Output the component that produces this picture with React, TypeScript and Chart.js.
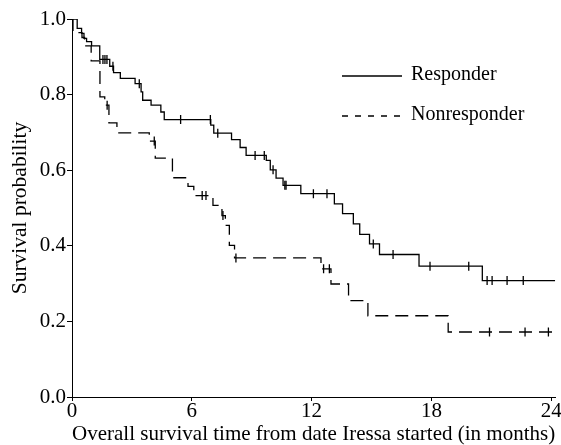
import React, { useEffect, useRef } from "react";
import { Chart, registerables } from "chart.js";

Chart.register(...registerables);

// ---- Data ----
const responderTimes = [0, 0.26, 0.48, 0.6, 0.73, 0.98, 1.39, 1.89, 2.08, 2.42, 3.16, 3.46, 3.54, 3.96, 4.45, 4.62, 6.95, 7.1, 7.99, 8.42, 8.72, 9.73, 9.93, 10.22, 10.57, 11.46, 13.14, 13.55, 14.09, 14.41, 14.9, 15.4, 17.38, 20.55];
const responderSurv = [1.0, 0.975, 0.962, 0.949, 0.94, 0.929, 0.893, 0.875, 0.858, 0.843, 0.829, 0.807, 0.785, 0.772, 0.754, 0.734, 0.719, 0.698, 0.681, 0.66, 0.639, 0.626, 0.601, 0.579, 0.56, 0.538, 0.511, 0.485, 0.458, 0.43, 0.405, 0.377, 0.346, 0.308];
const responderCensored = [1.55, 1.65, 1.75, 2.05, 3.37, 5.44, 6.93, 7.3, 9.17, 9.63, 10.07, 10.66, 10.72, 12.09, 12.77, 15.09, 16.08, 17.93, 19.87, 20.79, 21.04, 21.79, 22.6];

const nonresponderTimes = [0, 0.05, 0.5, 0.63, 0.96, 1.4, 1.64, 1.85, 2.25, 3.87, 4.17, 5.03, 5.81, 6.1, 7.06, 7.51, 7.68, 7.88, 8.14, 12.47, 12.97, 13.85, 14.82, 18.84];
const nonresponderSurv = [1.0, 0.964, 0.951, 0.929, 0.889, 0.794, 0.772, 0.725, 0.699, 0.677, 0.632, 0.58, 0.557, 0.533, 0.507, 0.48, 0.454, 0.401, 0.368, 0.339, 0.299, 0.255, 0.215, 0.172];
const nonresponderCensored = [1.76, 4.12, 6.52, 6.71, 7.56, 8.21, 12.6, 12.89, 20.91, 22.69, 23.86];

const xTickValues = [0, 6, 12, 18, 24];
const yTickValues = [0, 0.2, 0.4, 0.6, 0.8, 1.0];
const xMax = 24.2;
const legendLabels = ["Responder", "Nonresponder"];
const xTitle = "Overall survival time from date Iressa started (in months)";
const yTitle = "Survival probability";

// ---- helpers ----
function survivalAt(times: number[], surv: number[], t: number): number {
  let s = surv[0];
  for (let i = 0; i < times.length; i++) {
    if (times[i] <= t) s = surv[i];
  }
  return s;
}

function curvePoints(times: number[], surv: number[]) {
  const pts = times.map((t, i) => ({ x: t, y: surv[i] }));
  pts.push({ x: xMax, y: surv[surv.length - 1] });
  return pts;
}

function censorPoints(times: number[], surv: number[], cens: number[]) {
  return cens.map((t) => ({ x: t, y: survivalAt(times, surv, t) }));
}

const FONT = "'Liberation Serif', 'Times New Roman', serif";
const DASH = [13, 7];

const legendPlugin = {
  id: "kmLegend",
  afterDraw(chart: any) {
    const ctx = chart.ctx as CanvasRenderingContext2D;
    ctx.save();
    ctx.strokeStyle = "#000";
    ctx.fillStyle = "#000";
    ctx.lineWidth = 1.3;
    ctx.font = `20px ${FONT}`;
    ctx.textBaseline = "middle";
    legendLabels.forEach((label, i) => {
      const y = 76 + i * 40;
      ctx.beginPath();
      ctx.setLineDash(i === 0 ? [] : [6, 7]);
      ctx.moveTo(342, y);
      ctx.lineTo(402, y);
      ctx.stroke();
      ctx.setLineDash([]);
      ctx.fillText(label, 411, y - 1);
    });
    ctx.restore();
  },
};

export default function App() {
  const canvasRef = useRef<HTMLCanvasElement | null>(null);

  useEffect(() => {
    if (!canvasRef.current) return;
    const lineCommon = {
      borderColor: "#000",
      backgroundColor: "#000",
      borderWidth: 1.3,
      pointRadius: 0,
      stepped: true as const,
      fill: false,
    };
    const censorCommon = {
      borderColor: "#000",
      backgroundColor: "#000",
      showLine: false,
      pointStyle: "line" as const,
      pointRotation: 90,
      pointRadius: 4.5,
      pointBorderWidth: 1.3,
      borderWidth: 1.3,
    };
    const chart = new Chart(canvasRef.current, {
      type: "line",
      data: {
        datasets: [
          { ...lineCommon, label: legendLabels[0], data: curvePoints(responderTimes, responderSurv) },
          { ...lineCommon, label: legendLabels[1], borderDash: DASH, data: curvePoints(nonresponderTimes, nonresponderSurv) },
          { ...censorCommon, label: "rc", data: censorPoints(responderTimes, responderSurv, responderCensored) },
          { ...censorCommon, label: "nc", data: censorPoints(nonresponderTimes, nonresponderSurv, nonresponderCensored) },
        ],
      },
      options: {
        responsive: false,
        animation: false,
        events: [],
        layout: { padding: { top: 19, right: 1, left: 0, bottom: 0 } },
        plugins: { legend: { display: false }, tooltip: { enabled: false } },
        scales: {
          x: {
            type: "linear",
            min: 0,
            max: xMax,
            afterBuildTicks: (scale: any) => {
              scale.ticks = xTickValues.map((v) => ({ value: v }));
            },
            afterFit: (scale: any) => {
              scale.height = 48;
              scale.paddingLeft = 0;
              scale.paddingRight = 0;
            },
            grid: { display: true, drawOnChartArea: false, drawTicks: true, tickLength: 4, color: "#000", lineWidth: 1 },
            border: { display: true, color: "#000", width: 1 },
            ticks: { color: "#000", font: { family: FONT, size: 21 }, padding: -2, maxRotation: 0, autoSkip: false },
            title: { display: true, text: xTitle, color: "#000", font: { family: FONT, size: 21.5, lineHeight: 1.0 }, padding: { top: 0, bottom: 0 } },
          },
          y: {
            type: "linear",
            min: 0,
            max: 1,
            afterBuildTicks: (scale: any) => {
              scale.ticks = yTickValues.map((v) => ({ value: v }));
            },
            afterFit: (scale: any) => {
              scale.width = 72;
              scale.paddingTop = 0;
              scale.paddingBottom = 0;
            },
            grid: { display: true, drawOnChartArea: false, drawTicks: true, tickLength: 5, color: "#000", lineWidth: 1 },
            border: { display: true, color: "#000", width: 1 },
            ticks: { color: "#000", font: { family: FONT, size: 21 }, padding: 1, callback: (v: any) => Number(v).toFixed(1) },
            title: { display: true, text: yTitle, color: "#000", font: { family: FONT, size: 21.5 }, padding: { top: 7, bottom: 0 } },
          },
        },
      },
      plugins: [legendPlugin],
    } as any);
    return () => chart.destroy();
  }, []);

  return (
    <div style={{ position: "absolute", left: 0, top: 0, width: 561, height: 445, background: "#fff" }}>
      <canvas ref={canvasRef} width={561} height={445} style={{ display: "block", width: 561, height: 445 }} />
    </div>
  );
}
